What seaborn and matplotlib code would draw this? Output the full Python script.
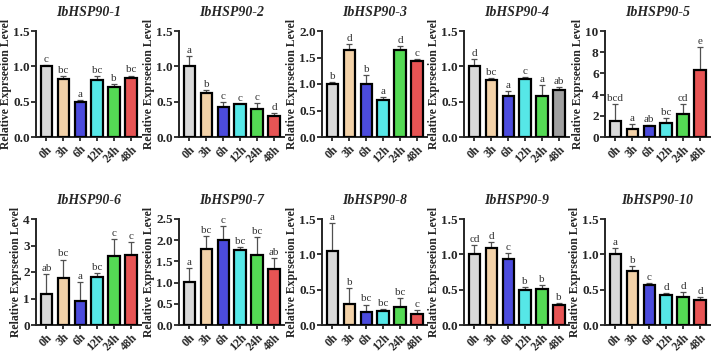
import numpy as np
import pandas as pd
import seaborn as sns
import matplotlib.pyplot as plt

times = ['0h', '3h', '6h', '12h', '24h', '48h']
genes = ['IbHSP90-%d' % i for i in range(1, 11)]

means = [
    [1.00, 0.82, 0.49, 0.81, 0.71, 0.84],
    [1.00, 0.62, 0.43, 0.46, 0.40, 0.30],
    [1.00, 1.64, 1.00, 0.70, 1.64, 1.44],
    [1.00, 0.80, 0.58, 0.82, 0.58, 0.67],
    [1.54, 0.71, 1.02, 1.35, 2.15, 6.34],
    [1.16, 1.78, 0.91, 1.81, 2.62, 2.63],
    [1.02, 1.80, 2.01, 1.76, 1.66, 1.31],
    [1.05, 0.30, 0.18, 0.20, 0.25, 0.15],
    [1.00, 1.09, 0.93, 0.49, 0.51, 0.29],
    [1.00, 0.77, 0.57, 0.42, 0.40, 0.35],
]
sds = [
    [0.02, 0.04, 0.03, 0.05, 0.04, 0.03],
    [0.14, 0.05, 0.06, 0.01, 0.08, 0.04],
    [0.04, 0.11, 0.17, 0.05, 0.08, 0.03],
    [0.10, 0.04, 0.07, 0.03, 0.16, 0.04],
    [1.54, 0.52, 0.12, 0.40, 0.95, 2.18],
    [0.76, 0.69, 0.72, 0.16, 0.62, 0.49],
    [0.32, 0.29, 0.33, 0.07, 0.41, 0.26],
    [0.39, 0.22, 0.11, 0.03, 0.13, 0.06],
    [0.13, 0.08, 0.09, 0.05, 0.05, 0.02],
    [0.09, 0.07, 0.02, 0.03, 0.07, 0.05],
]
letters = [
    ['c', 'bc', 'a', 'bc', 'b', 'bc'],
    ['a', 'b', 'c', 'c', 'c', 'd'],
    ['b', 'd', 'b', 'a', 'd', 'c'],
    ['d', 'bc', 'a', 'c', 'a', 'ab'],
    ['bcd', 'a', 'ab', 'bc', 'cd', 'e'],
    ['ab', 'bc', 'a', 'bc', 'c', 'c'],
    ['a', 'bc', 'c', 'bc', 'bc', 'ab'],
    ['a', 'b', 'bc', 'bc', 'bc', 'c'],
    ['cd', 'd', 'c', 'b', 'b', 'b'],
    ['a', 'b', 'c', 'd', 'd', 'd'],
]
ymax = [1.5, 1.5, 2.0, 1.5, 10, 4, 2.5, 1.5, 1.5, 1.5]
ystep = [0.5, 0.5, 0.5, 0.5, 2, 1, 0.5, 0.5, 0.5, 0.5]

colors = ['#d9d9d9', '#ffd39b', '#3333f5', '#3effff', '#3ef03e', '#ff3b3b']

sns.set_style('ticks')
plt.rcParams['font.family'] = 'serif'
plt.rcParams['font.serif'] = ['Liberation Serif', 'DejaVu Serif']

W, H = 717, 359
fig = plt.figure(figsize=(W / 100, H / 100), dpi=100)

lefts = [36, 179, 322, 464, 605]
tops = [31, 219]
bottoms = [137, 325]
aw = 105

for k, gene in enumerate(genes):
    r, c = divmod(k, 5)
    x0, y0, y1 = lefts[c], tops[r], bottoms[r]
    ax = fig.add_axes([x0 / W, 1 - y1 / H, aw / W, (y1 - y0) / H])

    pal = list(colors)
    if k == 3:
        pal[5] = '#a0a0a0'
    df = pd.DataFrame({'time': times, 'value': means[k], 'sd': sds[k]})
    sns.barplot(data=df, x='time', y='value', hue='time', palette=pal,
                legend=False, width=0.68, edgecolor='black', linewidth=1.6,
                errorbar=None, ax=ax, zorder=3)
    ax.errorbar(np.arange(6), df['value'], yerr=[np.zeros(6), df['sd']],
                fmt='none', ecolor='#505050', elinewidth=0.9, capsize=2.5,
                capthick=0.9, zorder=2)
    for i in range(6):
        ax.text(i, df['value'][i] + df['sd'][i] + ymax[k] * 0.01, letters[k][i],
                ha='center', va='bottom', fontsize=8, color='#333333')

    ax.set_xlim(-0.62, 5.59)
    ax.set_ylim(0, ymax[k])
    ax.set_yticks(np.arange(0, ymax[k] + 1e-9, ystep[k]))
    if ystep[k] < 1:
        ax.set_yticklabels(['%.1f' % v for v in ax.get_yticks()])
    else:
        ax.set_yticklabels(['%d' % v for v in ax.get_yticks()])
    ax.set_xticks(range(6))
    ax.set_xticklabels(times, rotation=45, ha='right', rotation_mode='anchor')
    for lab in ax.get_xticklabels() + ax.get_yticklabels():
        lab.set_fontweight('bold')
    ax.tick_params(axis='y', labelsize=9.5, length=3.5, width=1.3, pad=1)
    ax.tick_params(axis='x', labelsize=8.5, length=3, width=1.3, pad=1.5)
    sns.despine(ax=ax)
    for s in ['left', 'bottom']:
        ax.spines[s].set_linewidth(1.4)
    ax.set_xlabel('')
    ax.set_ylabel('Relative Exprseeion Level', fontsize=8.5, fontweight='bold', labelpad=1)
    ax.set_title(gene, fontsize=10, fontweight='bold', style='italic', pad=11)

plt.savefig('out.png', dpi=100)
